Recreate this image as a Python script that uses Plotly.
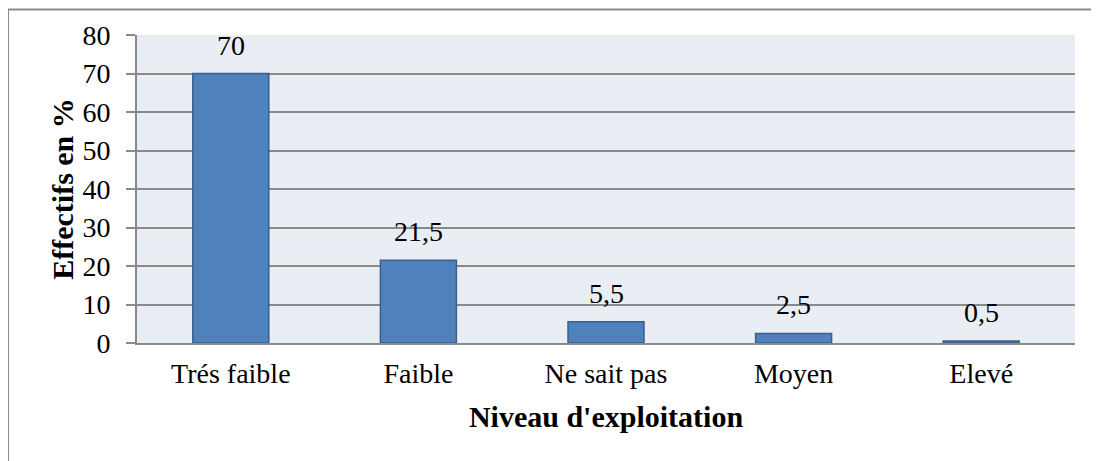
import plotly.graph_objs as go

# donnees
categories = ['Trés faible', 'Faible', 'Ne sait pas', 'Moyen', 'Elevé']
valeurs = [70, 21.5, 5.5, 2.5, 0.5]
etiquettes = [str(v).replace('.', ',') for v in valeurs]

police = 'Liberation Serif, Times New Roman, serif'
gris = '#8A8A8A'

trace = go.Bar(x=categories, y=valeurs,
               marker=dict(color='#4F81BD', line=dict(color='#3A5F8C', width=1.5)),
               showlegend=False, hoverinfo='x+y')

fig = go.Figure(data=[trace])

# etiquettes de valeurs au-dessus des barres
for c, v, t in zip(categories, valeurs, etiquettes):
    fig.add_annotation(x=c, y=v, text=t, showarrow=False,
                       yanchor='bottom', yshift=11,
                       font=dict(family=police, size=28, color='black'))

# cadre exterieur : seuls les cotes gauche et haut sont visibles
fig.add_shape(type='line', xref='paper', yref='paper',
              x0=-0.1375, x1=-0.1375, y0=-0.6, y1=1.083,
              line=dict(color=gris, width=2), layer='below')
fig.add_shape(type='line', xref='paper', yref='paper',
              x0=-0.1375, x1=1.2, y0=1.083, y1=1.083,
              line=dict(color=gris, width=2), layer='below')

# la page html ajoute une marge de 8px autour de la figure
fig.update_layout(width=1099, height=461,
                  margin=dict(l=129, r=32, t=27, b=126),
                  plot_bgcolor='#E9EDF4', paper_bgcolor='white',
                  bargap=0.595,
                  font=dict(family=police, size=28, color='black'))

fig.update_xaxes(showgrid=False, showline=True, linecolor=gris, linewidth=2,
                 ticks='', ticklabelstandoff=4,
                 tickfont=dict(family=police, size=28),
                 title=dict(text="Niveau d'exploitation", standoff=18,
                            font=dict(family=police, size=30, weight='bold')))

fig.update_yaxes(range=[0, 80], dtick=10, showgrid=True, gridcolor=gris, gridwidth=2,
                 showline=True, linecolor=gris, linewidth=2,
                 ticks='outside', ticklen=9, tickcolor=gris, tickwidth=2,
                 ticklabelstandoff=10, zeroline=False,
                 tickfont=dict(family=police, size=28),
                 title=dict(text='Effectifs en %', standoff=0,
                            font=dict(family=police, size=30, weight='bold')))

fig.write_html("out.html")
